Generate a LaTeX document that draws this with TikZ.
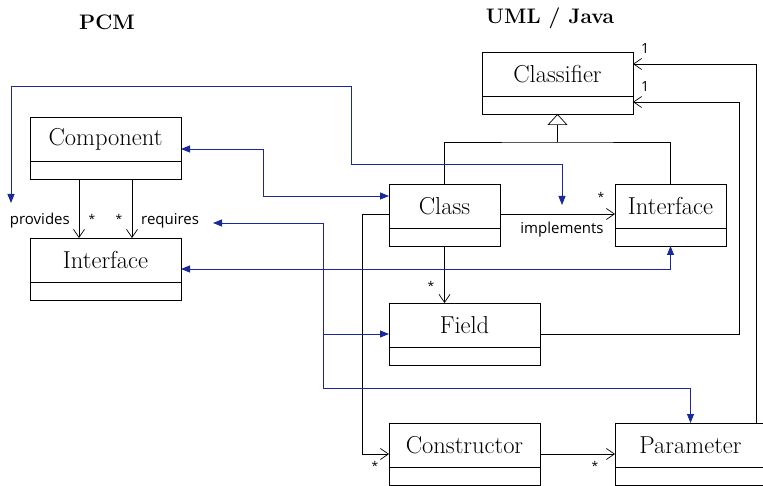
\documentclass[tikz,border=0pt]{standalone}
\usepackage{fontspec}
\newfontfamily\labfont{Open Sans}
\usetikzlibrary{arrows.meta}
\definecolor{corr}{RGB}{25,40,155}
\begin{document}
\begin{tikzpicture}[x=1pt,y=-1pt,
  boxtop/.style={draw, line width=0.7pt, outer sep=0pt, anchor=north west, minimum height=44pt, inner sep=0pt, font=\fontsize{24.5}{29}\selectfont},
  boxbot/.style={draw, line width=0.7pt, outer sep=0pt, anchor=north west, minimum height=18pt, inner sep=0pt},
  title/.style={font=\bfseries\fontsize{21}{25}\selectfont},
  lab/.style={font=\labfont\fontsize{15}{18}\selectfont, inner sep=0pt},
  mult/.style={font=\labfont\fontsize{12}{14}\selectfont, inner sep=0pt},
  one/.style={font=\labfont\fontsize{14}{16}\selectfont, inner sep=0pt},
  assoc/.style={draw, line width=0.7pt, -{Straight Barb[length=8pt,width=11pt,line width=0.7pt]}},
  plain/.style={draw, line width=0.7pt},
  gen/.style={draw, line width=0.7pt, -{Triangle[open,length=11pt,width=20pt,line width=0.7pt]}},
  bl/.style={draw=corr, line width=0.8pt},
  btip/.style={{Triangle[length=9pt,width=7pt]}-{Triangle[length=9pt,width=7pt]}}
]
\useasboundingbox (0,0) rectangle (763,486);

\node[title] (pcm) at (107,22) {PCM};
\node[title] (uml) at (550,18) {UML / Java};

% PCM boxes
\node[boxtop, minimum width=151pt] (comp) at (30,117) {Component};
\node[boxbot, minimum width=151pt] (compb) at (comp.south west) {};
\node[boxtop, minimum width=151pt] (pint) at (30,238) {Interface};
\node[boxbot, minimum width=151pt] (pintb) at (pint.south west) {};

% UML boxes
\node[boxtop, minimum width=151pt] (clsf) at (482,52) {Classifier};
\node[boxbot, minimum width=151pt] (clsfb) at (clsf.south west) {};
\node[boxtop, minimum width=111pt] (class) at (389,184) {Class};
\node[boxbot, minimum width=111pt] (classb) at (class.south west) {};
\node[boxtop, minimum width=111pt] (jint) at (615,184) {Interface};
\node[boxbot, minimum width=111pt] (jintb) at (jint.south west) {};
\node[boxtop, minimum width=151pt] (field) at (389,303) {Field};
\node[boxbot, minimum width=151pt] (fieldb) at (field.south west) {};
\node[boxtop, minimum width=151pt] (ctor) at (389,423) {Constructor};
\node[boxbot, minimum width=151pt] (ctorb) at (ctor.south west) {};
\node[boxtop, minimum width=151pt] (param) at (615,423) {Parameter};
\node[boxbot, minimum width=151pt] (paramb) at (param.south west) {};

% generalization
\coordinate (gj) at (557.5,142);
\draw[plain] (class.north) |- (gj) -| (jint.north);
\draw[gen] (gj) -- (clsfb.south);

% associations to Classifier
\draw[assoc] ([xshift=-10pt]param.north east) |- ([yshift=10pt]clsf.east);
\draw[assoc] ([yshift=-9pt]field.east) -- ++(199pt,0) |- ([yshift=3pt]clsfb.east);
\node[one] (one1) at (645,49) {1};
\node[one] (one2) at (645,87) {1};

% UML associations
\draw[assoc] (classb.south) -- (classb.south |- field.north);
\node[mult] (st1) at (431,286) {*};
\draw[assoc] ([yshift=-8pt]class.east) -- ([yshift=-8pt]jint.west);
\node[mult] (st2) at (601,197) {*};
\node[lab] (impl) at (562,230) {implements};
\draw[assoc] ([yshift=-8pt]class.west) -- ++(-27pt,0) |- ([yshift=-9pt]ctor.west);
\node[mult] (st3) at (375,466) {*};
\draw[assoc] ([yshift=-9pt]ctor.east) -- ([yshift=-9pt]param.west);
\node[mult] (st4) at (595,466) {*};

% PCM associations
\draw[assoc] ([xshift=-26.5pt]compb.south) -- ([xshift=-26.5pt]pint.north);
\draw[assoc] ([xshift=26.5pt]compb.south) -- ([xshift=26.5pt]pint.north);
\node[lab, anchor=east] (prov) at (70,221) {provides};
\node[mult] (st5) at (92,219) {*};
\node[mult] (st6) at (119,219) {*};
\node[lab, anchor=west] (req) at (141,221) {requires};

% correspondences
\draw[bl, btip] ([yshift=-10pt]comp.east) -- ++(82pt,0) |- ([yshift=10pt]class.west);
\coordinate (provtip) at (11,203);
\coordinate (impltip) at (562,205);
\draw[bl, btip] (provtip) -- (11,86) -| (351,164) -| (impltip);
\coordinate (reqtip) at (213,223);
\coordinate (rj) at (323,334);
\draw[bl, btip] (reqtip) -| (323,388) -| (param.north);
\draw[bl, -{Triangle[length=9pt,width=7pt]}] (rj) -- ([yshift=-9pt]field.west);
\draw[bl, btip] ([yshift=-9pt]pint.east) -| (jintb.south);
\end{tikzpicture}
\end{document}
